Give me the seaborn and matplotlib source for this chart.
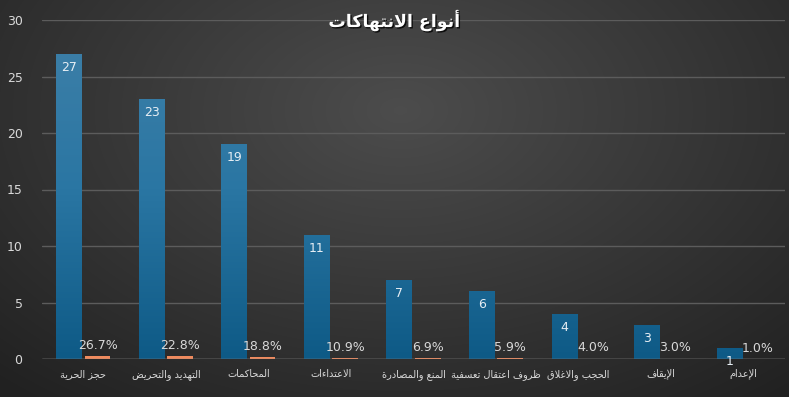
import numpy as np
import pandas as pd
import matplotlib.pyplot as plt
import matplotlib.patheffects as pe
from matplotlib.colors import LinearSegmentedColormap
import seaborn as sns

# chart data
categories = ['حجز الحرية', 'التهديد والتحريض', 'المحاكمات', 'الاعتداءات',
              'المنع والمصادرة', 'ظروف اعتقال تعسفية', 'الحجب والاغلاق',
              'الإيقاف', 'الإعدام']
counts = [27, 23, 19, 11, 7, 6, 4, 3, 1]
shares = [26.7, 22.8, 18.8, 10.9, 6.9, 5.9, 4.0, 3.0, 1.0]
series_names = ['العدد', 'النسبة']
title = 'أنواع الانتهاكات'
yticks = [0, 5, 10, 15, 20, 25, 30]

# matplotlib has no arabic shaping, so join letters by hand (presentation forms B)
dual = {'ئ': 0xFE89, 'ب': 0xFE8F, 'ت': 0xFE95, 'ث': 0xFE99, 'ج': 0xFE9D, 'ح': 0xFEA1,
        'خ': 0xFEA5, 'س': 0xFEB1, 'ش': 0xFEB5, 'ص': 0xFEB9, 'ض': 0xFEBD, 'ط': 0xFEC1,
        'ظ': 0xFEC5, 'ع': 0xFEC9, 'غ': 0xFECD, 'ف': 0xFED1, 'ق': 0xFED5, 'ك': 0xFED9,
        'ل': 0xFEDD, 'م': 0xFEE1, 'ن': 0xFEE5, 'ه': 0xFEE9, 'ي': 0xFEF1}
right = {'آ': 0xFE81, 'أ': 0xFE83, 'ؤ': 0xFE85, 'إ': 0xFE87, 'ا': 0xFE8D, 'ة': 0xFE93,
         'د': 0xFEA9, 'ذ': 0xFEAB, 'ر': 0xFEAD, 'ز': 0xFEAF, 'و': 0xFEED, 'ى': 0xFEEF}
lamalef = {'آ': 0xFEF5, 'أ': 0xFEF7, 'إ': 0xFEF9, 'ا': 0xFEFB}


def shape(text):
    tokens = []
    i = 0
    while i < len(text):
        c = text[i]
        if c == 'ل' and i + 1 < len(text) and text[i + 1] in lamalef:
            tokens.append((lamalef[text[i + 1]], 'right'))
            i += 2
            continue
        if c in dual:
            tokens.append((dual[c], 'dual'))
        elif c in right:
            tokens.append((right[c], 'right'))
        elif c == 'ء':
            tokens.append((0xFE80, 'none'))
        else:
            tokens.append((ord(c), None))
        i += 1
    out = []
    for k, (code, kind) in enumerate(tokens):
        if kind is None or kind == 'none':
            out.append(chr(code))
            continue
        prev_j = k > 0 and tokens[k - 1][1] == 'dual'
        next_j = kind == 'dual' and k + 1 < len(tokens) and tokens[k + 1][1] in ('dual', 'right')
        if prev_j and next_j:
            code += 3
        elif prev_j:
            code += 1
        elif next_j:
            code += 2
        out.append(chr(code))
    return ''.join(out)[::-1]


labels = [shape(c) for c in categories]
df = pd.DataFrame({
    'cat': labels * 2,
    'series': [series_names[0]] * 9 + [series_names[1]] * 9,
    'value': counts + [s / 100 for s in shares],
})

sns.set_style('dark')
plt.rcParams['font.family'] = ['DejaVu Sans']

fig = plt.figure(figsize=(7.89, 3.97), dpi=100)

# radial dark background
bg = fig.add_axes([0, 0, 1, 1], zorder=-5)
yy, xx = np.mgrid[0:397, 0:789]
r = np.sqrt(((xx - 400) / 520) ** 2 + ((yy - 110) / 330) ** 2)
shade = np.clip(0.30 - 0.15 * r, 0.13, 0.30)
bg.imshow(np.dstack([shade] * 3), aspect='auto', extent=(0, 1, 0, 1))
bg.set_axis_off()

ax = fig.add_axes([42 / 789, 38 / 397, 743 / 789, 339 / 397])
ax.set_facecolor('none')

sns.barplot(data=df, x='cat', y='value', hue='series', order=labels,
            palette=['#1b6a98', '#f08a5d'], saturation=1, width=0.69, gap=0.1,
            legend=False, ax=ax, zorder=3, edgecolor='none', linewidth=0)

# vertical gradient on the blue bars
blue = LinearSegmentedColormap.from_list('b', ['#0e5a86', '#2a76a3', '#3f80a8'])
grad = np.linspace(0, 1, 256).reshape(-1, 1)
for p in ax.containers[0]:
    x0 = p.get_x()
    im = ax.imshow(grad, cmap=blue, origin='lower', aspect='auto',
                   extent=(x0, x0 + p.get_width(), 0, 30), zorder=3.5)
    im.set_clip_path(p)

for p, v in zip(ax.containers[0], counts):
    ax.annotate(str(v), (p.get_x() + p.get_width() / 2, p.get_height()),
                xytext=(0, -5), textcoords='offset points', ha='center', va='top',
                color='#e6eef4', fontsize=9, zorder=5)
for p, v in zip(ax.containers[1], shares):
    ax.annotate(f'{v:.1f}%', (p.get_x() + p.get_width() / 2, p.get_height()),
                xytext=(0, 3), textcoords='offset points', ha='center', va='bottom',
                color='#d9d9d9', fontsize=9, zorder=5)

ax.set_ylim(0, 30)
ax.set_xlim(-0.5, 8.5)
ax.set_yticks(yticks)
ax.grid(axis='y', color='#5c5c5c', linewidth=1, zorder=0)
ax.grid(axis='x', visible=False)
ax.axhline(0, color='#8c8c8c', linewidth=1, zorder=4)
for s in ax.spines.values():
    s.set_visible(False)
ax.tick_params(axis='y', length=0, labelcolor='#d9d9d9', labelsize=9, pad=14)
ax.tick_params(axis='x', length=0, labelcolor='#d9d9d9', labelsize=7, pad=7)
ax.set_xlabel('')
ax.set_ylabel('')

fig.text(0.5, 0.948, shape(title), ha='center', va='center', color='white',
         fontsize=12.5, fontweight='bold',
         path_effects=[pe.withSimplePatchShadow(offset=(1, -1), shadow_rgbFace='black', alpha=0.8)])

fig.savefig('out.png', dpi=100)
